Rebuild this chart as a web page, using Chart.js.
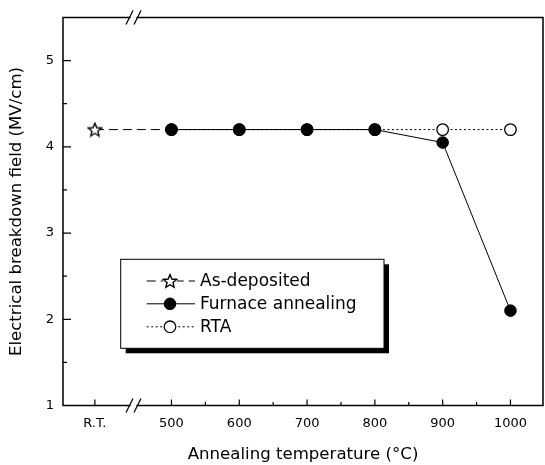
<!DOCTYPE html>
<html>
<head>
<meta charset="utf-8">
<script src="https://cdn.jsdelivr.net/npm/chart.js@4.4.1/dist/chart.umd.min.js"></script>
<style>
  html, body { margin: 0; padding: 0; background: #fff; overflow: hidden; }
</style>
</head>
<body>
<canvas id="chart" width="545" height="465"></canvas>
<script>
// values
const RT_POS = 387;      // "R.T." sits left of the axis break
const BREAK_POS = 444;   // where the // marks go
const temps = [500, 600, 700, 800, 900, 1000];
const furnaceField = [4.2, 4.2, 4.2, 4.2, 4.05, 2.1];
const rtaField = [4.2, 4.2, 4.2, 4.2, 4.2, 4.2];
const asDepTemps = [RT_POS, 500];
const asDepField = [4.2, 4.2];
const xMajorTicks = [RT_POS, 500, 600, 700, 800, 900, 1000];
const xMinorTicks = [550, 650, 750, 850, 950];
const yMajorTicks = [1, 2, 3, 4, 5];
const yMinorTicks = [1.5, 2.5, 3.5, 4.5];

const FONT = 'DejaVu Sans';

// hollow five point star for the as-deposited point
function makeStar(size) {
  const c = document.createElement('canvas');
  c.width = size; c.height = size;
  const g = c.getContext('2d');
  const cx = size / 2, cy = size / 2 + 0.6, R = size / 2 - 1, r = R * 0.45;
  g.beginPath();
  for (let i = 0; i < 10; i++) {
    const a = -Math.PI / 2 + i * Math.PI / 5;
    const rad = i % 2 ? r : R;
    g.lineTo(cx + rad * Math.cos(a), cy + rad * Math.sin(a));
  }
  g.closePath();
  g.fillStyle = '#fff';
  g.fill();
  g.lineWidth = 1.4;
  g.strokeStyle = '#000';
  g.stroke();
  return c;
}
const star = makeStar(16);

const pairs = (xs, ys) => xs.map((x, i) => ({ x: x, y: ys[i] }));

// frame, inward ticks and axis breaks
const framePlugin = {
  id: 'frame',
  afterDatasetsDraw(chart) {
    const ctx = chart.ctx;
    const a = chart.chartArea;
    const xs = chart.scales.x, ys = chart.scales.y;
    ctx.save();
    ctx.strokeStyle = '#000';
    ctx.lineWidth = 1.5;
    ctx.strokeRect(a.left, a.top, a.right - a.left, a.bottom - a.top);

    ctx.lineWidth = 1.2;
    ctx.beginPath();
    xMajorTicks.forEach(v => {
      const px = xs.getPixelForValue(v);
      ctx.moveTo(px, a.bottom); ctx.lineTo(px, a.bottom - 6);
    });
    xMinorTicks.forEach(v => {
      const px = xs.getPixelForValue(v);
      ctx.moveTo(px, a.bottom); ctx.lineTo(px, a.bottom - 3.5);
    });
    yMajorTicks.forEach(v => {
      const py = ys.getPixelForValue(v);
      ctx.moveTo(a.left, py); ctx.lineTo(a.left + 8, py);
    });
    yMinorTicks.forEach(v => {
      const py = ys.getPixelForValue(v);
      ctx.moveTo(a.left, py); ctx.lineTo(a.left + 4, py);
    });
    ctx.stroke();

    // // marks on top and bottom axes
    const bx = xs.getPixelForValue(BREAK_POS);
    [a.top, a.bottom].forEach(y0 => {
      ctx.fillStyle = '#fff';
      ctx.fillRect(bx - 3, y0 - 2, 6, 4);
      ctx.beginPath();
      [-4, 4].forEach(dx => {
        ctx.moveTo(bx + dx - 3.5, y0 + 7);
        ctx.lineTo(bx + dx + 3.5, y0 - 7);
      });
      ctx.lineWidth = 1.3;
      ctx.stroke();
    });
    ctx.restore();
  }
};

// boxed legend with drop shadow
const legendPlugin = {
  id: 'boxLegend',
  afterDraw(chart) {
    const ctx = chart.ctx;
    const box = { l: 120.7, t: 259.3, r: 384, b: 348.3 };
    ctx.save();
    ctx.fillStyle = '#000';
    ctx.fillRect(box.l + 5, box.t + 5, box.r - box.l, box.b - box.t);
    ctx.fillStyle = '#fff';
    ctx.fillRect(box.l, box.t, box.r - box.l, box.b - box.t);
    ctx.lineWidth = 1;
    ctx.strokeStyle = '#000';
    ctx.strokeRect(box.l, box.t, box.r - box.l, box.b - box.t);

    const rows = [281, 303.8, 326.8];
    chart.data.datasets.forEach((ds, i) => {
      const y = rows[i];
      ctx.beginPath();
      ctx.setLineDash(ds.borderDash || []);
      ctx.lineWidth = ds.borderWidth;
      ctx.strokeStyle = '#000';
      ctx.moveTo(146.7, y); ctx.lineTo(195, y);
      ctx.stroke();
      ctx.setLineDash([]);
      const mx = 170;
      if (ds.pointStyle === star) {
        ctx.fillStyle = '#fff';
        ctx.fillRect(mx - 7, y - 7, 14, 14);
        ctx.drawImage(star, mx - star.width / 2, y - star.height / 2);
      } else {
        ctx.beginPath();
        ctx.arc(mx, y, ds.pointRadius, 0, Math.PI * 2);
        ctx.fillStyle = ds.pointBackgroundColor;
        ctx.fill();
        ctx.lineWidth = ds.pointBorderWidth;
        ctx.stroke();
      }
      ctx.fillStyle = '#000';
      ctx.font = '17px "' + FONT + '"';
      ctx.textBaseline = 'middle';
      ctx.fillText(ds.label, 200, y + 0.5);
    });
    ctx.restore();
  }
};

new Chart(document.getElementById('chart'), {
  type: 'line',
  data: {
    datasets: [
      {
        label: 'As-deposited',
        data: pairs(asDepTemps, asDepField),
        borderColor: '#000',
        borderWidth: 1,
        borderDash: [9, 5],
        pointStyle: star,
        pointRadius: [7, 0],
        order: 2
      },
      {
        label: 'Furnace annealing',
        data: pairs(temps, furnaceField),
        borderColor: '#000',
        borderWidth: 1,
        pointRadius: 5.8,
        pointBorderWidth: 1,
        pointBackgroundColor: '#000',
        pointBorderColor: '#000',
        order: 1
      },
      {
        label: 'RTA',
        data: pairs(temps, rtaField),
        borderColor: '#000',
        borderWidth: 1,
        borderDash: [2, 2.5],
        pointRadius: 5.8,
        pointBorderWidth: 1.3,
        pointBackgroundColor: '#fff',
        pointBorderColor: '#000',
        order: 3
      }
    ]
  },
  options: {
    responsive: false,
    animation: false,
    layout: { autoPadding: false, padding: { left: 7, top: 17.5, right: 2, bottom: 0 } },
    plugins: { legend: { display: false }, tooltip: { enabled: false } },
    scales: {
      x: {
        type: 'linear',
        min: 340,
        max: 1048,
        afterBuildTicks: s => { s.ticks = xMajorTicks.map(v => ({ value: v })); },
        afterFit: s => { s.height = 59.5; s.paddingLeft = 0; s.paddingRight = 0; },
        grid: { display: false, drawTicks: false },
        border: { display: false },
        ticks: {
          autoSkip: false,
          maxRotation: 0,
          padding: 10,
          color: '#000',
          font: { family: FONT, size: 13 },
          callback: v => v === RT_POS ? 'R.T.' : String(v)
        },
        title: {
          display: true,
          text: 'Annealing temperature (°C)',
          color: '#000',
          font: { family: FONT, size: 16.6 },
          padding: { top: 0, bottom: 0 }
        }
      },
      y: {
        min: 1,
        max: 5.5,
        afterBuildTicks: s => { s.ticks = yMajorTicks.map(v => ({ value: v })); },
        afterFit: s => { s.width = 56; s.paddingTop = 0; s.paddingBottom = 0; },
        grid: { display: false, drawTicks: false },
        border: { display: false },
        ticks: {
          padding: 9,
          color: '#000',
          font: { family: FONT, size: 13 }
        },
        title: {
          display: true,
          text: 'Electrical breakdown field (MV/cm)',
          color: '#000',
          font: { family: FONT, size: 16.6 },
          padding: { top: 0, bottom: 0 }
        }
      }
    }
  },
  plugins: [framePlugin, legendPlugin]
});
</script>
</body>
</html>
